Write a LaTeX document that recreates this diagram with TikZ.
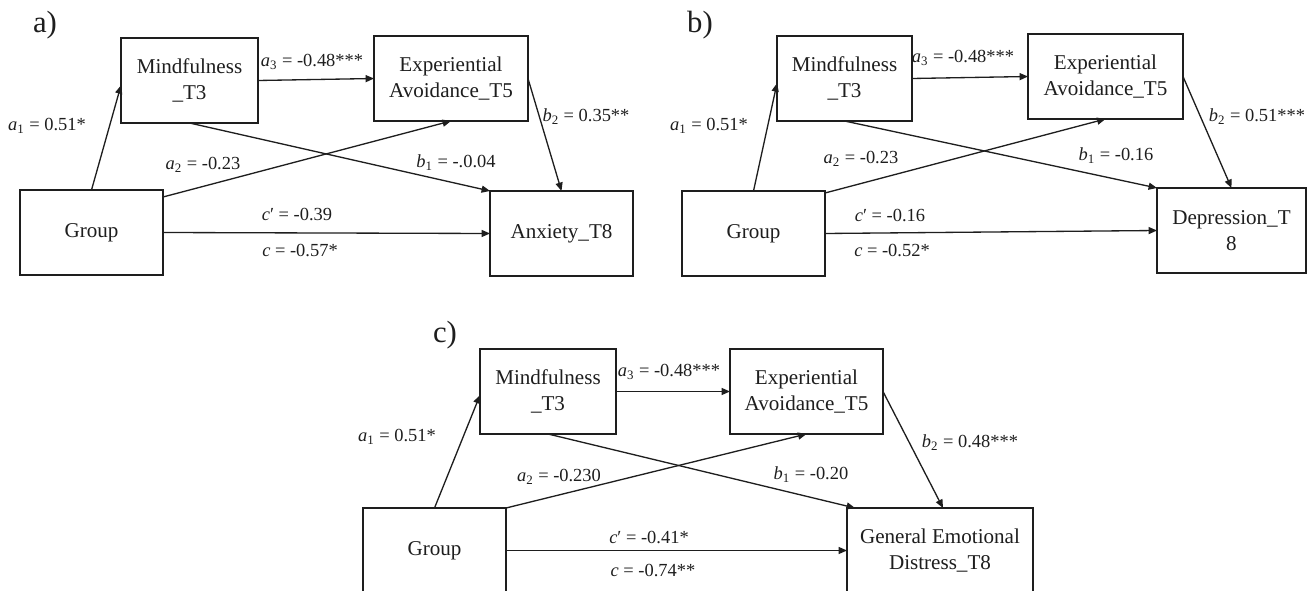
\documentclass[tikz,border=0pt]{standalone}
\usepackage{fontspec}
\setmainfont{Liberation Serif}
\usetikzlibrary{arrows.meta,calc}
\definecolor{ink}{HTML}{1E1E1E}
\newcommand\coefsub[2]{\textit{#1}\textsubscript{#2}}
\tikzset{
  box/.style={draw=ink, line width=0.85pt, minimum height=1.7cm, inner sep=0pt, outer sep=0pt,
              align=center, text=ink, font=\fontsize{12}{15.2}\selectfont},
  lab/.style={inner sep=0pt, text=ink, font=\fontsize{10.5}{12}\selectfont},
  ptag/.style={inner sep=0pt, text=ink, font=\fontsize{17.5}{20}\selectfont},
  arr/.style={draw=ink, line width=0.75pt, -{Triangle[length=4.8pt,width=4pt]}},
}
\begin{document}
\begin{tikzpicture}[x=0.02cm,y=-0.02cm]
\path[use as bounding box, clip] (0,0) rectangle (1309,591);
\fill[white] (0,0) rectangle (1309,591);

% ---------------- panel a ----------------
\node[ptag] (tagA) at (45,25) {a)};
\node[box, minimum width=2.74cm] (ma) at (189.5,80.5) {Mindfulness\\\_T3};
\node[box, minimum width=2.86cm] (ga) at (91.5,232.5) {Group};
\node[box, minimum width=3.08cm] (ea) at (451,78.5) {Experiential\\Avoidance\_T5};
\node[box, minimum width=2.86cm] (ya) at (561.5,233.5) {Anxiety\_T8};
\draw[arr] (ga.north) -- (ma.184);
\draw[arr] (ma.east) -- (ea.west);
\draw[arr] (ma.south) -- (ya.north west);
\draw[arr] ($(ga.north east)+(0,7)$) -- (ea.south);
\draw[arr] (ga.east) -- (ya.west);
\draw[arr] (ea.east) -- (ya.north);
\node[lab] (la1) at (47,126) {\coefsub{a}{1} = 0.51*};
\node[lab] (la3) at (312,62) {\coefsub{a}{3} = -0.48***};
\node[lab] (la2) at (203,165) {\coefsub{a}{2} = -0.23};
\node[lab] (lb1) at (456,163) {\coefsub{b}{1} = -.0.04};
\node[lab] (lb2) at (586,117) {\coefsub{b}{2} = 0.35**};
\node[lab] (lcp) at (297,214) {\textit{c}′ = -0.39};
\node[lab] (lc) at (300,250) {\textit{c} = -0.57*};

% ---------------- panel b ----------------
\node[ptag] (tagB) at (700,25) {b)};
\node[box, minimum width=2.70cm] (mb) at (844.5,78.5) {Mindfulness\\\_T3};
\node[box, minimum width=2.86cm] (gb) at (753.5,233.5) {Group};
\node[box, minimum width=3.10cm] (eb) at (1105.5,76.5) {Experiential\\Avoidance\_T5};
\node[box, minimum width=2.98cm] (yb) at (1231.5,230.5) {Depression\_T\\8};
\draw[arr] (gb.north) -- (mb.184);
\draw[arr] (mb.east) -- (eb.west);
\draw[arr] (mb.south) -- (yb.north west);
\draw[arr] ($(gb.north east)+(0,2)$) -- (eb.south);
\draw[arr] (gb.east) -- (yb.west);
\draw[arr] (eb.east) -- (yb.north);
\node[lab] (lba1) at (709,126) {\coefsub{a}{1} = 0.51*};
\node[lab] (lba3) at (963,58) {\coefsub{a}{3} = -0.48***};
\node[lab] (lba2) at (861,159) {\coefsub{a}{2} = -0.23};
\node[lab] (lbb1) at (1116,156) {\coefsub{b}{1} = -0.16};
\node[lab] (lbb2) at (1257,117) {\coefsub{b}{2} = 0.51***};
\node[lab] (lbcp) at (890,215) {\textit{c}′ = -0.16};
\node[lab] (lbc) at (892,250) {\textit{c} = -0.52*};

% ---------------- panel c ----------------
\node[ptag] (tagC) at (445,335) {c)};
\node[box, minimum width=2.72cm] (mc) at (548,391.5) {Mindfulness\\\_T3};
\node[box, minimum width=2.86cm] (gc) at (434.5,550.5) {Group};
\node[box, minimum width=3.06cm] (ec) at (806.5,391.5) {Experiential\\Avoidance\_T5};
\node[box, minimum width=3.72cm] (yc) at (940,550.5) {General Emotional\\Distress\_T8};
\draw[arr] (gc.north) -- (mc.183);
\draw[arr] (mc.east) -- (ec.west);
\draw[arr] (mc.south) -- ($(yc.north west)+(8,0)$);
\draw[arr] (gc.north east) -- (ec.south);
\draw[arr] (gc.east) -- (yc.west);
\draw[arr] (ec.east) -- ($(yc.north)+(3,0)$);
\node[lab] (lca1) at (397,437) {\coefsub{a}{1} = 0.51*};
\node[lab] (lca3) at (669,372) {\coefsub{a}{3} = -0.48***};
\node[lab] (lca2) at (559,477) {\coefsub{a}{2} = -0.230};
\node[lab] (lcb1) at (811,475) {\coefsub{b}{1} = -0.20};
\node[lab] (lcb2) at (970,443) {\coefsub{b}{2} = 0.48***};
\node[lab] (lccp) at (649,537) {\textit{c}′ = -0.41*};
\node[lab] (lcc) at (653,570) {\textit{c} = -0.74**};
\end{tikzpicture}
\end{document}
